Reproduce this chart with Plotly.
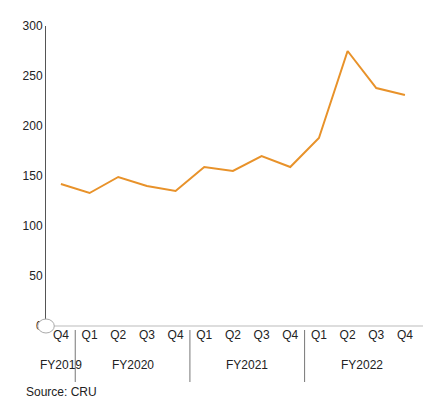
import plotly.graph_objects as go

years = ["FY2019", "FY2020", "FY2021", "FY2022"]
year_sizes = [1, 4, 4, 4]
quarters = ["Q4", "Q1", "Q2", "Q3", "Q4", "Q1", "Q2", "Q3", "Q4", "Q1", "Q2", "Q3", "Q4"]
values = [142, 133, 149, 140, 135, 159, 155, 170, 159, 188, 275, 238, 231]

xs = list(range(len(quarters)))
fig = go.Figure(go.Scatter(x=xs, y=values, mode="lines",
                           line=dict(color="#E8922A", width=2)))

H = 405 - 18 - 87
def py(pix):  # pixel y from top -> paper coord
    return (318 - pix) / H

annotations = []
shapes = []
start = 0
for name, n in zip(years, year_sizes):
    annotations.append(dict(text=name, x=start + (n - 1) / 2, xref="x", y=py(366),
                            yref="paper", showarrow=False, font=dict(size=12, color="#222")))
    if start > 0:
        shapes.append(dict(type="line", xref="x", yref="paper", x0=start - 0.5, x1=start - 0.5,
                           y0=py(322), y1=py(374), line=dict(color="#777", width=1)))
    start += n
annotations.append(dict(text="Source: CRU", x=0, xref="paper", xanchor="left", xshift=-22,
                        y=py(393), yref="paper", showarrow=False, font=dict(size=12, color="#222")))
shapes.append(dict(type="line", xref="paper", yref="paper", x0=0, x1=1, y0=0, y1=0,
                   line=dict(color="#bbb", width=1)))
shapes.append(dict(type="circle", xref="paper", yref="paper", x0=-0.022, x1=0.022,
                   y0=py(325), y1=py(311), line=dict(color="#aaa", width=1), fillcolor="white"))

fig.update_layout(
    width=433, height=405, margin=dict(l=38, r=18, t=18, b=87),
    paper_bgcolor="white", plot_bgcolor="white", showlegend=False,
    font=dict(family="Liberation Sans, Arial", size=12, color="#222"),
    xaxis=dict(range=[-0.52, 12.63], tickvals=xs, ticktext=quarters, showgrid=False,
               zeroline=False, showline=False, ticks=""),
    yaxis=dict(range=[0, 300], dtick=50, showgrid=False, showline=True,
               linecolor="#555", ticks="", zeroline=False),
    annotations=annotations, shapes=shapes,
)
fig.write_html("out.html")
